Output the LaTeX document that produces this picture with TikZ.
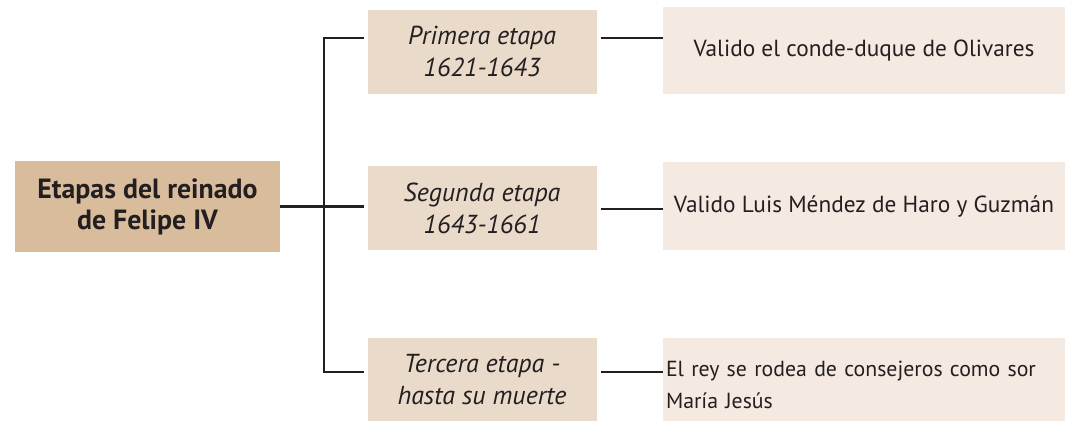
\documentclass[tikz,border=0pt]{standalone}
\usepackage{fontspec}
\setmainfont{PT Sans}
\definecolor{tanA}{HTML}{D9BC9C}
\definecolor{tanB}{HTML}{EADACA}
\definecolor{tanC}{HTML}{F4EAE1}
\definecolor{ink}{HTML}{231F20}
\begin{document}
\begin{tikzpicture}[x=1pt,y=-1pt]
\useasboundingbox (0,0) rectangle (1067,421);
\begin{scope}[thick,
              block1/.style={rectangle,fill=tanA,align=center,text=ink,font=\fontsize{27.8}{31}\selectfont\bfseries,
                             minimum width=265,minimum height=91},
              block2/.style={rectangle,fill=tanB,align=center,text=ink,font=\fontsize{26}{32}\selectfont\itshape,
                             minimum width=229,minimum height=84},
              block3/.style={rectangle,fill=tanC,align=center,text=ink,font=\fontsize{23.3}{32}\selectfont,
                             minimum width=402,minimum height=87},
              link/.style={draw=ink,line width=2.6pt}]
    \node [block1] (1) at (147.5,206.5) {Etapas del reinado \\ de Felipe IV};
    \node [block2] (2) at (482,51.5) {Primera etapa \\ 1621-1643};
    \node [block2] (3) at (482,208) {Segunda etapa \\ 1643-1661};
    \node [block2,minimum height=83] (4) at (482,379.5) {Tercera etapa - \\ hasta su muerte};
    \node [block3] (5) at (864,50.5) {Valido el conde-duque de Olivares};
    \node [block3,minimum height=88] (6) at (864,206) {Valido Luis Méndez de Haro y Guzmán};
    \node [block3,minimum height=83,align=left,text width=396,inner sep=3,text height=26,
           font=\fontsize{21.8}{32}\selectfont] (7) at (864,379.5) {El rey se rodea de consejeros como sor \\ María Jesús};
    \coordinate (9) at (324,207);
    \path [link,shorten >=3] (1.east) -- (1.east -| 3.west);
    \path [link,shorten >=3] (9) |- ([yshift=13.5]2.west);
    \path [link,shorten >=3] (9) |- ([yshift=7.5]4.west);
    \path [link,shorten <=4] ([yshift=13.5]2.east) -- ([yshift=13.5]2.east -| 5.west);
    \path [link,shorten <=4] ([yshift=-1]3.east) -- ([yshift=-1]3.east -| 6.west);
    \path [link,shorten <=4] ([yshift=7.5]4.east) -- ([yshift=7.5]4.east -| 7.west);
\end{scope}
\end{tikzpicture}
\end{document}
